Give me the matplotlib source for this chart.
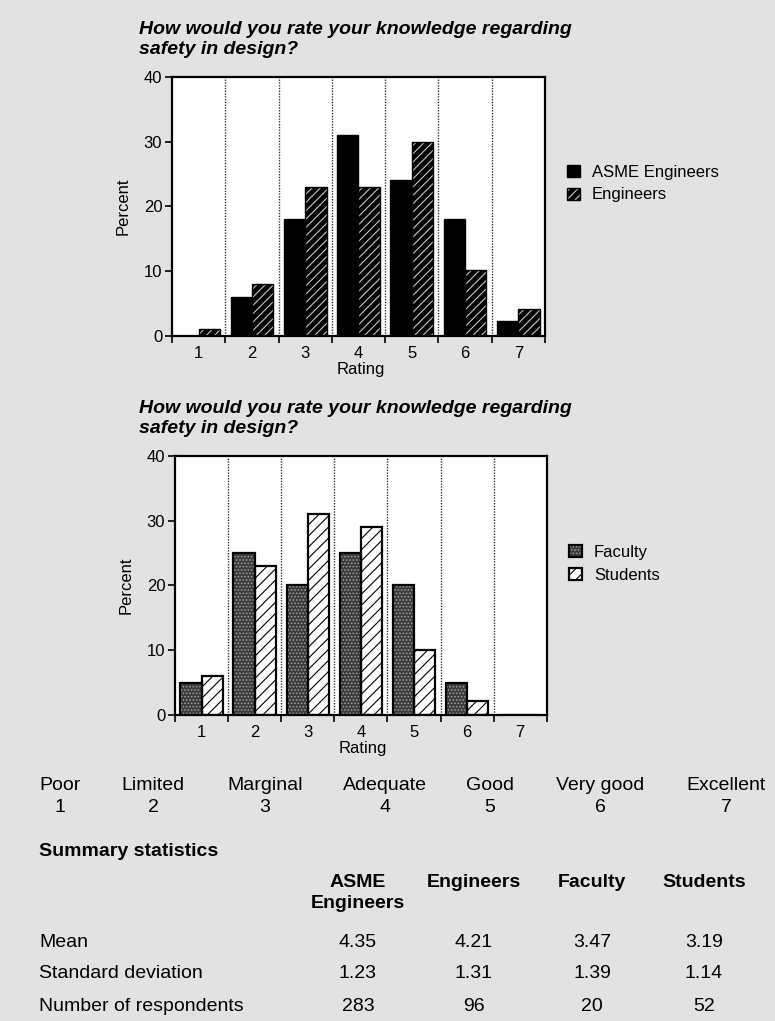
import numpy as np
import matplotlib.pyplot as plt
from matplotlib.legend_handler import HandlerTuple

plt.rcParams['font.family'] = ['Liberation Sans', 'DejaVu Sans']
plt.rcParams['hatch.linewidth'] = 0.8

# survey data (percent of respondents per rating)
ratings = np.arange(1, 8)
asme_pct = [0, 6, 18, 31, 24, 18, 2.3]
eng_pct = [1.1, 8, 23, 23, 30, 10.2, 4.2]
faculty_pct = [5, 25, 20, 25, 20, 5, 0]
student_pct = [6, 23, 31, 29, 10, 2.2, 0]

question = ["How would you rate your knowledge regarding", "safety in design?"]
scale_names = ["Poor", "Limited", "Marginal", "Adequate", "Good", "Very good", "Excellent"]

stat_groups = ["ASME\nEngineers", "Engineers", "Faculty", "Students"]
stat_rows = ["Mean", "Standard deviation", "Number of respondents"]
mean_vals = ["4.35", "4.21", "3.47", "3.19"]
sd_vals = ["1.23", "1.31", "1.39", "1.14"]
n_vals = ["283", "96", "20", "52"]

W, H = 775, 1021
BG = '#e2e2e2'


def fx(x):
    return x / W


def fy(y):
    return 1 - y / H


def setup_axes(ax):
    ax.set_facecolor('white')
    ax.set_xlim(0.5, 7.5)
    ax.set_ylim(0, 40)
    ax.set_yticks([0, 10, 20, 30, 40])
    ax.set_xticks(np.arange(0.5, 8, 1))
    ax.set_xticklabels([])
    ax.set_xticks(ratings, minor=True)
    ax.set_xticklabels([str(r) for r in ratings], minor=True)
    ax.tick_params(axis='x', which='minor', length=0, pad=7, labelsize=12)
    ax.tick_params(axis='x', which='major', length=5, width=1.2, direction='out')
    ax.tick_params(axis='y', length=5, width=1.2, labelsize=12, pad=2)
    # dotted separators between rating groups
    for b in np.arange(1.5, 7, 1):
        ax.axvline(b, color='#333333', lw=1.0, ls=(0, (1, 1)), zorder=1)
    for s in ax.spines.values():
        s.set_linewidth(1.6)
    ax.set_xlabel('Rating', fontsize=12)
    ax.set_ylabel('Percent', fontsize=12)
    ax.xaxis.set_label_coords(0.505, -0.1)
    ax.yaxis.set_label_coords(-0.11, 0.5)


def draw_title(y1):
    fig.text(fx(139), fy(y1), question[0], fontsize=14, fontweight='bold',
             fontstyle='italic', va='baseline')
    fig.text(fx(139), fy(y1 + 20), question[1], fontsize=14, fontweight='bold',
             fontstyle='italic', va='baseline')


def add_legend(ax, handles, labels, x, y):
    ax.legend(handles, labels, handler_map={tuple: HandlerTuple(ndivide=1)},
              loc='upper left', bbox_to_anchor=(fx(x), fy(y)),
              bbox_transform=fig.transFigure, frameon=False, fontsize=12,
              handlelength=0.75, handleheight=0.75, handletextpad=0.75,
              labelspacing=0.45, borderpad=0, borderaxespad=0)


fig = plt.figure(figsize=(W / 100, H / 100), dpi=100, facecolor=BG)

w = 0.4

# ---- top chart: ASME engineers vs engineers
ax1 = fig.add_axes([fx(172), fy(336), (545 - 172) / W, (336 - 76.7) / H])
setup_axes(ax1)
b_asme = ax1.bar(ratings - w / 2, asme_pct, w, color='black', edgecolor='black',
                 lw=1, zorder=2)
b_eng = ax1.bar(ratings + w / 2, eng_pct, w, color='black', edgecolor='#c8c8c8',
                hatch='////', lw=0, zorder=2)
b_eng_o = ax1.bar(ratings + w / 2, eng_pct, w, fill=False, edgecolor='black',
                  lw=1, zorder=3)
add_legend(ax1, [b_asme[0], (b_eng[0], b_eng_o[0])],
           ['ASME Engineers', 'Engineers'], 567, 165)
draw_title(34)

# ---- bottom chart: faculty vs students
ax2 = fig.add_axes([fx(175), fy(715), (546.7 - 175) / W, (715 - 455.7) / H])
setup_axes(ax2)
b_fac = ax2.bar(ratings - w / 2, faculty_pct, w, color='#3a3a3a', edgecolor='#9c9c9c',
                hatch='.....', lw=0, zorder=2)
b_fac_o = ax2.bar(ratings - w / 2, faculty_pct, w, fill=False, edgecolor='black',
                  lw=1.6, zorder=3)
b_stu = ax2.bar(ratings + w / 2, student_pct, w, color='white', edgecolor='black',
                hatch='///', lw=1.6, zorder=2)
add_legend(ax2, [(b_fac[0], b_fac_o[0]), b_stu[0]], ['Faculty', 'Students'],
           569, 545)
draw_title(413)

# ---- rating scale key
scale_x = [60, 153, 265, 385, 490, 600, 726]
for name, r, x in zip(scale_names, ratings, scale_x):
    fig.text(fx(x), fy(785), name, fontsize=14, ha='center', va='center')
    fig.text(fx(x), fy(808), str(r), fontsize=14, ha='center', va='center')

# ---- summary statistics table
fig.text(fx(39), fy(852), 'Summary statistics', fontsize=14, fontweight='bold',
         va='center')
col_x = [358, 474, 592, 704]
for g, x in zip(stat_groups, col_x):
    fig.text(fx(x), fy(874), g, fontsize=14, fontweight='bold', ha='center',
             va='top', linespacing=1.3)
row_y = [942, 973, 1006]
for label, vals, y in zip(stat_rows, [mean_vals, sd_vals, n_vals], row_y):
    fig.text(fx(39), fy(y), label, fontsize=14, va='center')
    for v, x in zip(vals, col_x):
        fig.text(fx(x), fy(y), v, fontsize=14, ha='center', va='center')

fig.savefig('out.png', dpi=100, facecolor=BG)
